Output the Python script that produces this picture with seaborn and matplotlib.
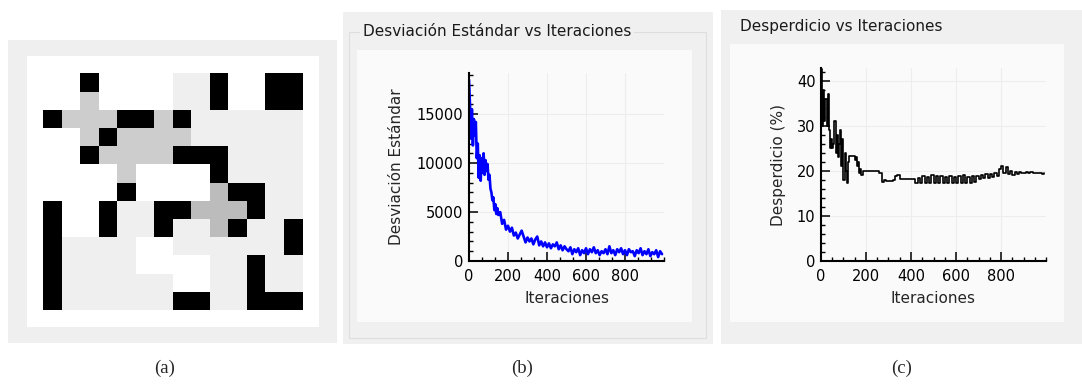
import numpy as np
import pandas as pd
import matplotlib
matplotlib.use("Agg")
import matplotlib.pyplot as plt
import seaborn as sns
from matplotlib.colors import ListedColormap
from matplotlib.patches import Rectangle
from matplotlib.ticker import MultipleLocator

# ---------------- data ----------------
# panel (a): cell states 0=white, 1=light grey, 2=grey, 3=dark grey, 4=black
grid_rows = [
    [0, 0, 4, 0, 0, 0, 0, 1, 1, 4, 0, 0, 4, 4],
    [0, 0, 2, 0, 0, 0, 0, 1, 1, 4, 0, 0, 4, 4],
    [4, 2, 2, 2, 4, 4, 2, 4, 1, 1, 1, 1, 1, 1],
    [0, 0, 2, 4, 2, 2, 2, 2, 1, 1, 1, 1, 1, 1],
    [0, 0, 4, 2, 2, 2, 2, 4, 4, 4, 1, 1, 1, 1],
    [0, 0, 0, 0, 2, 0, 0, 0, 0, 4, 1, 1, 1, 1],
    [0, 0, 0, 0, 4, 0, 0, 0, 0, 3, 4, 4, 1, 1],
    [4, 0, 0, 4, 1, 1, 4, 4, 3, 3, 3, 4, 1, 1],
    [4, 0, 0, 4, 1, 1, 4, 1, 1, 3, 4, 1, 1, 4],
    [4, 1, 1, 1, 1, 0, 0, 1, 1, 1, 1, 1, 1, 4],
    [4, 1, 1, 1, 1, 0, 0, 0, 0, 1, 1, 4, 1, 1],
    [4, 1, 1, 1, 1, 1, 1, 0, 0, 1, 1, 4, 1, 1],
    [4, 1, 1, 1, 1, 1, 1, 4, 4, 1, 1, 4, 4, 4],
]
cell_colors = ["#ffffff", "#efefef", "#cdcdcd", "#bcbcbc", "#000000"]

# panel (b): standard deviation vs iterations
std_iter = [0, 5, 10, 15, 20, 25, 30, 35, 40, 45, 50, 55, 60, 65, 70, 75, 80, 85, 90, 95,
            100, 105, 110, 115, 120, 125, 130, 135, 140, 145,
            150, 160, 170, 180, 190, 200, 210, 220, 230, 240, 250, 260, 270, 280, 290,
            300, 310, 320, 330, 340, 350, 360, 370, 380, 390, 400, 410, 420, 430, 440,
            450, 460, 470, 480, 490, 500, 510, 520, 530, 540, 550, 560, 570, 580, 590,
            600, 610, 620, 630, 640, 650, 660, 670, 680, 690, 700, 710, 720, 730, 740,
            750, 760, 770, 780, 790, 800, 810, 820, 830, 840, 850, 860, 870, 880, 890,
            900, 910, 920, 930, 940, 950, 960, 970, 980, 990]
std_vals = [18500, 16000, 12500, 15500, 11800, 14500, 12800, 14200, 10500, 12000,
            8500, 10800, 8200, 10500, 9000, 11000, 8800, 10300, 9200, 9900,
            8300, 8800, 7400, 7000, 6200, 6500, 5200, 5800, 4800, 5400,
            4700, 5000, 3800, 4200, 3200, 3600, 3000, 3400, 2600, 2900, 2300, 2700, 3100, 2500, 1900,
            2400, 2000, 2300, 1700, 2200, 2500, 1600, 2000, 1500, 1900, 1400, 1800, 1300, 1700, 1500,
            1900, 1200, 1600, 1100, 1500, 1200, 1000, 1400, 700, 1200, 900, 1300, 600, 1100, 800,
            1300, 700, 1200, 900, 1400, 800, 1100, 600, 1000, 800, 1200, 700, 1500, 800, 1100,
            600, 1200, 900, 1300, 700, 1100, 600, 1200, 900, 1000, 500, 1100, 800, 1300, 600,
            1000, 700, 1200, 500, 900, 700, 1100, 400, 1000, 700]

# panel (c): waste (%) vs iterations
waste_iter = [0, 5, 10, 15, 20, 25, 30, 35, 40, 45, 50, 55, 60, 65, 70, 75, 80, 85, 90, 95,
              100, 105, 110, 115, 120, 125, 130, 135, 140, 145, 150, 155, 160, 165, 170,
              175, 180, 185, 190, 195,
              200, 210, 220, 230, 240, 250, 260, 270, 280, 290, 300, 310, 320, 330, 340,
              350, 360, 370, 380, 390, 400, 410, 420, 430, 440, 450, 460, 470, 480, 490,
              500, 510, 520, 530, 540, 550, 560, 570, 580, 590, 600, 610, 620, 630, 640,
              650, 660, 670, 680, 690, 700, 710, 720, 730, 740, 750, 760, 770, 780, 790,
              800, 810, 820, 830, 840, 850, 860, 870, 880, 890, 900, 910, 920, 930, 940,
              950, 960, 970, 980, 990]
waste_vals = [42.5, 30, 38, 31, 36, 30, 37, 29, 25, 27, 25, 26, 31, 24, 28, 23, 26, 29, 21, 27,
              18, 24, 20, 17.3, 22, 23.2, 23.2, 23.2, 23.2, 23.2, 22.5, 23, 21, 22, 19.5,
              20.5, 19, 20, 20, 20,
              20, 20, 20, 20, 20, 20, 19.5, 17.6, 18, 17.8, 17.8, 17.8, 18, 18.8, 19,
              18.2, 18.2, 18.2, 18.2, 18.2, 18.2, 18.2, 17.3, 18.5, 17.2, 18.8, 17.3, 18.6, 17.2, 19,
              17.3, 18.8, 17.2, 18.9, 17.4, 18.7, 17.2, 18.9, 17.3, 18.6, 17.2, 18.8, 17.3, 19, 17.4,
              18.7, 17.3, 18.9, 17.5, 18.8, 18.2, 19, 18.4, 19.3, 18.5, 19.4, 18.6, 19.5, 18.8, 20.5,
              21, 19.5, 20.8, 19.2, 20, 19, 19.8, 19.2, 19.8, 19.5, 19.5, 19.7, 19.5, 19.7, 19.5,
              19.6, 19.5, 19.6, 19.4, 19.5]

std_yticks = [0, 5000, 10000, 15000]
waste_yticks = [0, 10, 20, 30, 40]
iter_ticks = [0, 200, 400, 600, 800]

# ---------------- layout ----------------
sns.set_style("white")
plt.rcParams["font.family"] = ["DejaVu Sans"]

W, H = 1082, 389
fig = plt.figure(figsize=(W / 100, H / 100), dpi=100, facecolor="white")


def fbox(x0, y0, x1, y1):
    return [x0 / W, 1 - y1 / H, (x1 - x0) / W, (y1 - y0) / H]


def rect(x0, y0, x1, y1, fc, ec="none", lw=0, z=-5):
    fig.add_artist(Rectangle((x0 / W, 1 - y1 / H), (x1 - x0) / W, (y1 - y0) / H,
                             transform=fig.transFigure, facecolor=fc, edgecolor=ec,
                             linewidth=lw, zorder=z))


# panel backgrounds
rect(8, 40, 337, 343, "#efefef")
rect(27, 56, 319, 327, "#ffffff", z=-4)
rect(343, 12, 713, 344, "#f0f0f0")
rect(349, 32, 706, 338, "none", ec="#dedede", lw=0.8, z=-3)
rect(357, 50, 692, 322, "#fafafa", z=-4)
rect(721, 10, 1082, 344, "#f0f0f0")
rect(730, 44, 1064, 322, "#fafafa", z=-4)

# ---- panel (a) heatmap ----
axa = fig.add_axes(fbox(43.3, 73.3, 302.5, 310))
sns.heatmap(np.array(grid_rows), ax=axa, cmap=ListedColormap(cell_colors),
            vmin=-0.5, vmax=4.5, cbar=False, xticklabels=False, yticklabels=False,
            linewidths=0)
axa.set_xticks([])
axa.set_yticks([])
for s in axa.spines.values():
    s.set_visible(False)


def style_axes(ax, xminor, yminor):
    ax.set_facecolor("none")
    for side in ["top", "right"]:
        ax.spines[side].set_visible(False)
    for side in ["left", "bottom"]:
        ax.spines[side].set_color("black")
        ax.spines[side].set_linewidth(1.5)
    ax.tick_params(axis="both", which="major", direction="in", length=6.5, width=1.1,
                   labelsize=10.5, color="black", labelcolor="black", pad=4)
    ax.tick_params(axis="x", which="major", pad=6)
    ax.tick_params(axis="both", which="minor", direction="in", length=3.2, width=1.0,
                   color="black")
    ax.xaxis.set_minor_locator(MultipleLocator(xminor))
    ax.yaxis.set_minor_locator(MultipleLocator(yminor))
    ax.tick_params(axis="x", which="both", bottom=True)
    ax.tick_params(axis="y", which="both", left=True)
    ax.grid(True, which="major", color="#ededed", linewidth=0.8)
    ax.set_axisbelow(True)


# ---- panel (b) ----
fig.text(363 / W, 1 - 31 / H, "Desviación Estándar vs Iteraciones", ha="left", va="center",
         fontsize=11, color="#1a1a1a",
         bbox=dict(facecolor="#f0f0f0", edgecolor="none", pad=2))
axb = fig.add_axes(fbox(469, 73, 664, 261))
df_b = pd.DataFrame({"Iteraciones": std_iter, "Desviación Estándar": std_vals})
sns.lineplot(data=df_b, x="Iteraciones", y="Desviación Estándar", ax=axb,
             color="#0000ff", linewidth=1.9)
axb.set_xlim(0, 1000)
axb.set_ylim(0, 19200)
axb.set_xticks(iter_ticks)
axb.set_yticks(std_yticks)
style_axes(axb, 200 / 3, 1000)
axb.set_xlabel("Iteraciones", fontsize=11, labelpad=5)
axb.set_ylabel("Desviación Estándar", fontsize=11, labelpad=9)

# ---- panel (c) ----
fig.text(740 / W, 1 - 27 / H, "Desperdicio vs Iteraciones", ha="left", va="center",
         fontsize=11, color="#1a1a1a")
axc = fig.add_axes(fbox(821, 68, 1046, 261))
df_c = pd.DataFrame({"Iteraciones": waste_iter, "Desperdicio (%)": waste_vals})
sns.lineplot(data=df_c, x="Iteraciones", y="Desperdicio (%)", ax=axc,
             color="black", linewidth=1.2, drawstyle="steps-post")
axc.set_xlim(0, 1000)
axc.set_ylim(0, 42.8)
axc.set_xticks(iter_ticks)
axc.set_yticks(waste_yticks)
style_axes(axc, 50, 2)
axc.set_xlabel("Iteraciones", fontsize=11, labelpad=5)
axc.set_ylabel("Desperdicio (%)", fontsize=11, labelpad=8)

# captions
for x, lab in [(165, "(a)"), (522, "(b)"), (902, "(c)")]:
    fig.text(x / W, 1 - 368 / H, lab, ha="center", va="center", fontsize=13.5,
             family=["Liberation Serif", "DejaVu Serif"])

fig.savefig("out.png", dpi=100, facecolor="white")
